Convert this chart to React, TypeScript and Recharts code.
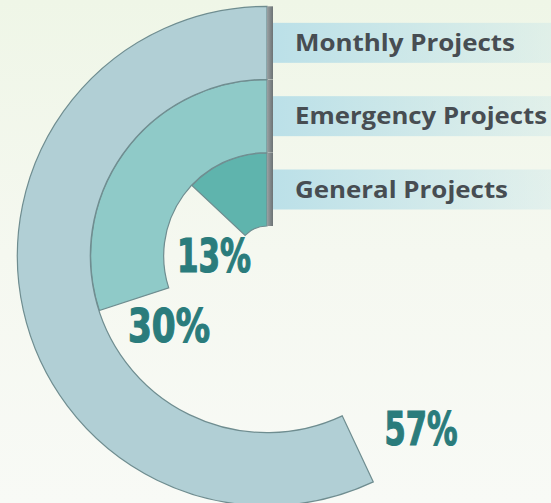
import { PolarAngleAxis, PolarRadiusAxis, RadialBar, RadialBarChart, Sector } from "recharts";

const categories = ["General Projects", "Emergency Projects", "Monthly Projects"];
const shares = [13, 30, 57];
const ringColors = ["#5fb4ad", "#8fcac8", "#b1cfd5"];

// where each percentage sits, relative to the end of its arc
const labelSpots = [
  { dAngle: 43, dr: 23, len: 74 },
  { dAngle: 17.5, dr: 17, len: 82 },
  { dAngle: 16.5, dr: 55, len: 73 },
];
// rendered widths of the legend names
const nameWidths = [213, 252, 220];

const data = categories.map((name, i) => ({ name, value: shares[i], color: ringColors[i] }));

const W = 551;
const H = 503;
const RAD = Math.PI / 180;

function RingShape(props: any) {
  const { cx, cy, innerRadius, outerRadius, startAngle, endAngle, payload } = props;
  const i = categories.indexOf(payload.name);
  const mid = (innerRadius + outerRadius) / 2;
  const spot = labelSpots[i];
  const a = endAngle + spot.dAngle;
  const r = innerRadius + spot.dr;
  const lx = cx + Math.cos(-a * RAD) * r;
  const ly = cy + Math.sin(-a * RAD) * r;
  return (
    <g>
      <rect x={cx + 6} y={cy - mid - 20} width={W - cx - 6} height={40} fill="url(#band)" />
      <text
        x={cx + 28}
        y={cy - mid + 8}
        fontFamily="'Open Sans', sans-serif"
        fontWeight={700}
        fontSize={23}
        textLength={nameWidths[i]}
        lengthAdjust="spacingAndGlyphs"
        fill="#474d52"
      >
        {payload.name}
      </text>
      <Sector
        cx={cx}
        cy={cy}
        innerRadius={innerRadius}
        outerRadius={outerRadius}
        startAngle={startAngle}
        endAngle={endAngle}
        fill={payload.color}
        stroke="#6f8d90"
        strokeWidth={1.2}
      />
      <rect x={cx} y={cy - outerRadius} width={6} height={outerRadius - innerRadius} fill="url(#edge)" />
      <text
        x={lx}
        y={ly}
        textAnchor="middle"
        dominantBaseline="central"
        fontFamily="'Liberation Sans Narrow', 'DejaVu Sans Condensed', sans-serif"
        fontWeight={700}
        fontSize={46}
        textLength={spot.len}
        lengthAdjust="spacingAndGlyphs"
        fill="#2a7c7c"
        stroke="#2a7c7c"
        strokeWidth={1.2}
      >
        {`${payload.value}%`}
      </text>
    </g>
  );
}

export default function App() {
  return (
    <div
      style={{
        position: "fixed",
        left: 0,
        top: 0,
        width: W,
        height: H,
        background: "linear-gradient(180deg, #eff6e7 0%, #f5f8f0 50%, #f8faf6 100%)",
      }}
    >
      <RadialBarChart
        width={W}
        height={H}
        data={data}
        cx={267}
        cy={256}
        innerRadius={30}
        outerRadius={250}
        startAngle={90}
        endAngle={450}
        barCategoryGap={0}
        barGap={0}
        margin={{ top: 0, right: 0, bottom: 0, left: 0 }}
      >
        <defs>
          <linearGradient id="band" x1="0" y1="0" x2="1" y2="0">
            <stop offset="0%" stopColor="#bbe0e8" stopOpacity={1} />
            <stop offset="100%" stopColor="#bbe0e8" stopOpacity={0.3} />
          </linearGradient>
          <linearGradient id="edge" x1="0" y1="0" x2="1" y2="0">
            <stop offset="0%" stopColor="#9aa1a3" />
            <stop offset="100%" stopColor="#6c7375" />
          </linearGradient>
        </defs>
        <PolarAngleAxis type="number" domain={[0, 100]} tick={false} axisLine={false} />
        <PolarRadiusAxis type="category" dataKey="name" tick={false} axisLine={false} />
        <RadialBar dataKey="value" shape={RingShape} isAnimationActive={false} />
      </RadialBarChart>
    </div>
  );
}
